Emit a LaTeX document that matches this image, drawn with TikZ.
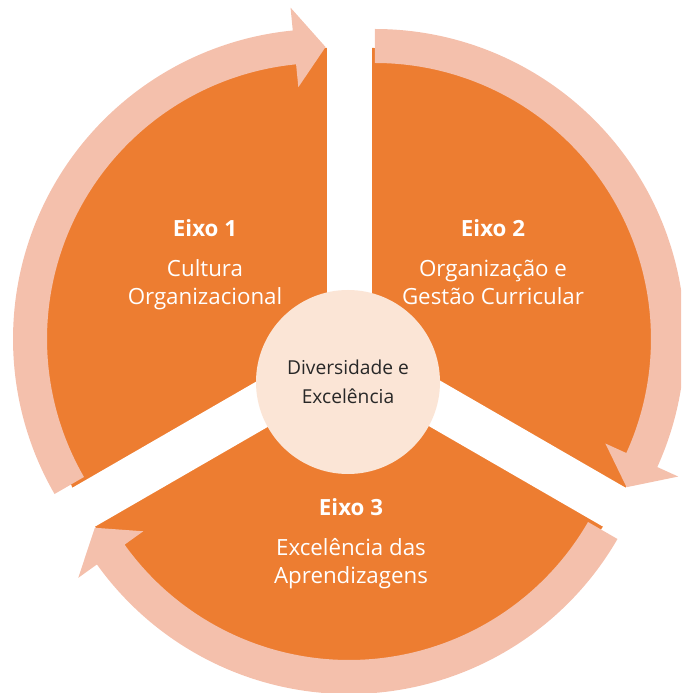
\documentclass[tikz,border=0pt]{standalone}
\usepackage{fontspec}
\setmainfont{Open Sans}
\definecolor{axisorange}{RGB}{237,125,49}
\definecolor{arrowpink}{RGB}{244,192,172}
\definecolor{corepeach}{RGB}{251,229,214}
\definecolor{coregray}{RGB}{40,40,40}
\begin{document}
\begin{tikzpicture}[x=1pt, y=1pt,
    axislabel/.style={text=white, align=center, font=\fontsize{22.3}{28}\selectfont},
    corelabel/.style={text=coregray, align=center, font=\fontsize{19.2}{29}\selectfont}]
        % Frame of the picture
        \clip (-349,-339) rectangle (332,354);

        % Orange disc cut in three by white gaps
        \fill[axisorange] (0,0) circle (307);
        \foreach \a in {90,-30,210}
          \draw[white, line width=45pt] (0,0) -- (\a:340);

        % Pink circular arrows, one around each sector
        \foreach \b in {150,30,270}
          \fill[arrowpink, shift={(\b:30)}]
            ({\b+60}:310) arc[start angle=\b+60, end angle=\b-54.4, radius=310]
            -- ({\b-54.4}:333) -- ({\b-60.5}:292) -- ({\b-54.4}:253) -- ({\b-54.4}:276)
            arc[start angle=\b-54.4, end angle=\b+60, radius=276] -- cycle;

        % Centre circle
        \node[circle, fill=corepeach, minimum size=184pt, inner sep=0pt, corelabel] (core) at (-1,-28)
          {Diversidade e\\Excelência};

        % Labels of the three axes
        \node[axislabel] (eixo1) at (-144,89) {\textbf{Eixo 1}\\[12pt]Cultura\\Organizacional};
        \node[axislabel] (eixo2) at (144,91.5) {\textbf{Eixo 2}\\[12pt]Organização e\\Gestão Curricular};
        \node[axislabel] (eixo3) at (2,-189.5) {\textbf{Eixo 3}\\[12pt]Excelência das\\Aprendizagens};
      \end{tikzpicture}
\end{document}
